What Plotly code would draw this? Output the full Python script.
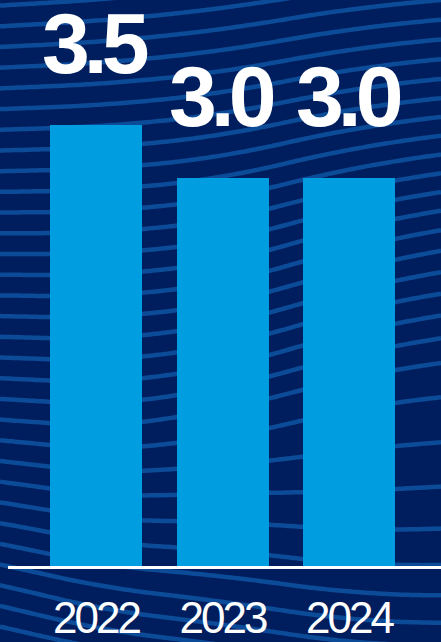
import numpy as np
import plotly.graph_objects as go

# ---- data -------------------------------------------------------------
years = ["2022", "2023", "2024"]
values = [3.5, 3.0, 3.0]
value_labels = ["3.5", "3.0", "3.0"]

# ---- page geometry / palette ------------------------------------------
W, H = 441, 642
M_L, M_R, M_T, M_B = 8, 0, 0, 76
PW, PH = W - M_L - M_R, H - M_T - M_B

BG = "#001e5e"
WAVE = "#0b4b97"
BAR = "#009ee0"
WHITE = "#ffffff"
FONT = "Liberation Sans, Arial, sans-serif"


def tight(text, spacing):
    """Wrap text in a span with negative letter spacing for a condensed look."""
    return f'<span style="letter-spacing:{spacing}px">{text}</span>'


# ---- decorative flowing lines in the background -----------------------
# slope field dy/dx (pixel space) sampled on a coarse grid, then each
# line is traced across the page from its left-hand start height.
fx = np.array([0, 50, 160, 285, 441])
fy = np.array([-50, 100, 250, 350, 420, 480, 540, 600, 700])
field = np.array([
    [-0.07, -0.04, 0.00, 0.03, 0.07, 0.13, 0.20, 0.24, 0.20],
    [-0.07, -0.04, 0.00, 0.03, 0.07, 0.13, 0.20, 0.24, 0.20],
    [-0.10, -0.10, -0.10, -0.12, -0.15, -0.05, 0.05, 0.12, 0.12],
    [-0.14, -0.20, -0.29, -0.29, -0.25, -0.05, 0.10, 0.15, 0.15],
    [-0.07, -0.10, -0.18, -0.15, -0.08, -0.06, -0.03, 0.00, 0.00],
])


def slope(x, y):
    col = np.array([np.interp(y, fy, field[i]) for i in range(len(fx))])
    return np.interp(x, fx, col)


def to_paper(x, y):
    return (x - M_L) / PW, (M_T + PH - y) / PH


shapes = []
xs = np.arange(0, W + 3, 3.0)
for start in np.arange(-160, 720, 20.7):
    y = start
    pts = []
    for i, x in enumerate(xs):
        pts.append(to_paper(x, y))
        if i < len(xs) - 1:
            y += slope(x, y) * (xs[i + 1] - x)
    path = "M " + " L ".join(f"{px:.4f},{py:.4f}" for px, py in pts)
    shapes.append(dict(type="path", path=path, xref="paper", yref="paper",
                       layer="below", line=dict(color=WAVE, width=4.5)))

# ---- bars -------------------------------------------------------------
fig = go.Figure(go.Bar(
    x=years, y=values, width=0.727,
    marker=dict(color=BAR, line=dict(width=0)),
    hoverinfo="skip",
))

# value labels above each bar (x given as category index)
annotations = [
    dict(x=i, y=np.log10(v), xref="x", yref="y", text=tight(lab, -6),
         showarrow=False, yanchor="middle", yshift=82, xshift=-1,
         font=dict(family=FONT, size=86, color=WHITE, weight="bold"))
    for i, (v, lab) in enumerate(zip(values, value_labels))
]

fig.update_layout(
    width=W, height=H,
    margin=dict(l=M_L, r=M_R, t=M_T, b=M_B, pad=0, autoexpand=False),
    paper_bgcolor=BG, plot_bgcolor="rgba(0,0,0,0)",
    showlegend=False,
    shapes=shapes,
    annotations=annotations,
    bargap=0,
    xaxis=dict(
        type="category", range=[-0.696, 2.727], fixedrange=True,
        automargin=False,
        tickmode="array", tickvals=years,
        ticktext=[tight(y, -3) for y in years],
        showgrid=False, zeroline=False,
        showline=True, linecolor=WHITE, linewidth=3,
        ticks="outside", ticklen=11, tickcolor="rgba(0,0,0,0)",
        tickfont=dict(family=FONT, size=44, color=WHITE),
    ),
    yaxis=dict(
        type="log", range=[-0.0112, 0.7019], fixedrange=True,
        automargin=False,
        showgrid=False, zeroline=False, showline=False,
        showticklabels=False, ticks="",
    ),
)

fig.write_html("out.html")
